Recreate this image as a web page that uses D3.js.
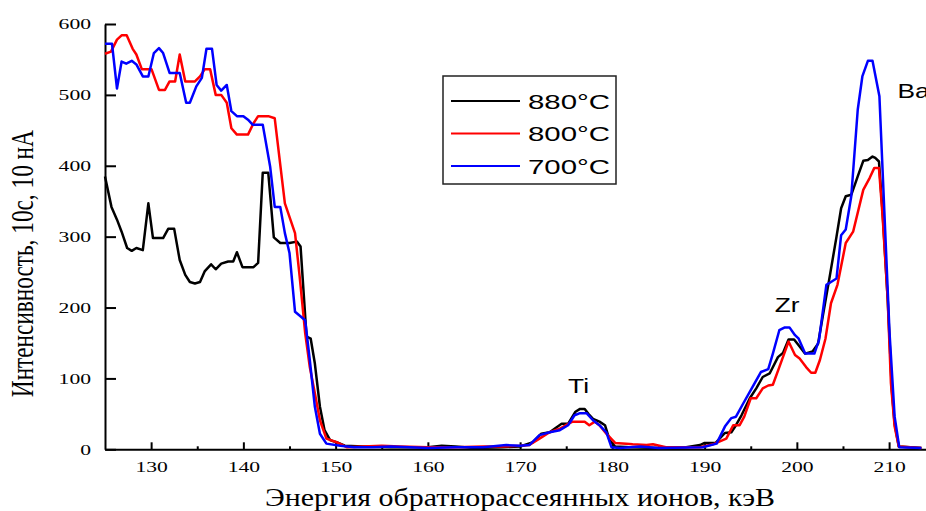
<!DOCTYPE html>
<html>
<head>
<meta charset="utf-8">
<script src="https://cdn.jsdelivr.net/npm/d3@7"></script>
<style>
    body { margin: 0; background: #fff; }
    #chart { width: 926px; height: 511px; }
    .axis path, .axis line { stroke: #000; stroke-width: 2px; }
    .axis text { font-family: "Liberation Serif", "DejaVu Serif", "Times New Roman", serif; font-size: 15px; fill: #000; }
    .series { fill: none; stroke-width: 2.5px; stroke-linejoin: round; }
    .serif { font-family: "Liberation Serif", "DejaVu Serif", "Times New Roman", serif; }
    .sans { font-family: "Liberation Sans", Arial, sans-serif; }
</style>
</head>
<body>
<div id="chart"></div>
<script>
// energy (keV) / intensity pairs
let e880 = [125.0,125.7,126.3,126.8,127.4,127.9,128.4,129.1,129.7,130.2,131.3,131.85,132.5,133.1,133.7,134.2,134.75,135.3,135.8,136.5,137.0,137.6,138.35,138.9,139.3,139.9,141.1,141.6,142.1,142.7,143.3,144.0,145.0,145.8,146.2,146.85,147.3,147.75,148.3,148.8,149.4,150.1,151.0,153,156,158,160,161.5,163,165,168,170,171.4,172.3,173.2,174.5,175.2,176.0,176.5,177.0,177.4,177.9,178.6,179.2,179.7,180.3,182,185,188,189.5,190.0,191.2,192.2,192.9,193.4,194.0,194.9,195.6,196.3,197.05,197.95,198.5,199.1,199.7,200.3,200.9,201.7,202.3,202.8,203.5,204.3,204.8,205.3,205.9,206.6,207.2,207.7,208.2,208.5,208.9,209.3,209.85,210.3,210.6,211.05,213.5];
let i880 = [385,342,324,307,284,280,284,281,347,298,298,311,311,267,246,236,234,236,251,261,254,262,265,265,278,257,257,263,390,390,299,291,291,293,286,159,156,121,60,27,13,10,5,4,3,3,3,5,4,2,3,4,10,22,24,36,36,53,57,57,50,43,39,34,13,4,3,2,3,6,9,9,23,24,34,48,72,86,102,107,130,136,155,155,145,135,138,149,187,239,300,340,357,359,385,407,408,413,411,406,333,211,83,36,4,2];

let e800 = [125.0,125.65,126.3,126.8,127.35,128.0,128.4,129.0,130.05,130.85,131.5,132.0,132.6,133.1,133.7,134.75,135.3,135.8,136.4,137.0,137.6,138.2,138.7,139.3,140.5,141.1,141.6,142.7,143.4,144.5,145.6,146.1,146.7,147.2,147.75,148.3,149.0,150.1,151.2,153,155,157,160,163,166,168,170,171.0,172.1,173.2,174.3,175.2,175.7,177.0,177.5,178.1,178.6,179.35,180.3,181.5,182.2,183.7,184.4,185.8,189.5,190.9,192.35,193.1,193.8,194.3,195.0,195.6,196.3,196.9,197.4,198.1,199.1,199.8,200.3,201.0,201.55,202.0,202.5,203.1,203.7,204.4,205.3,206.1,207.2,207.9,208.4,208.9,209.3,209.85,210.2,210.6,211.05,213.5];
let i800 = [558,561,578,584,584,565,557,536,536,507,507,519,519,557,519,519,526,536,536,500,500,489,453,444,444,460,470,470,467,347,305,244,164,116,79,41,15,10,3,4,5,4,3,3,4,4,5,6,15,24,29,36,39,39,34,39,34,22,9,8,7,6,7,3,3,7,15,34,34,46,72,72,86,90,91,116,152,133,128,116,108,108,126,156,206,232,291,307,366,383,397,397,328,211,93,32,4,2];

let e700 = [125.0,125.76,126.3,126.8,127.3,127.9,128.4,129.1,129.7,130.3,130.85,131.3,132.0,133.1,133.8,134.2,134.9,135.5,136.0,136.6,137.1,137.6,138.2,138.7,139.3,140.0,140.5,141.0,142.1,142.9,143.4,144.0,144.5,145.0,145.6,146.7,147.2,147.75,148.3,149.0,150.5,152,154,156,158,160,163,166,168.5,170,171.0,172.1,173.2,174.3,175.2,175.9,176.5,177.2,177.9,178.6,179.35,179.9,180.8,183,185,189.8,191.3,192.2,192.9,193.4,194.2,195.2,196.1,196.9,197.4,198.1,198.7,199.2,199.8,200.2,200.9,201.9,202.4,203.2,203.7,204.3,204.8,205.3,205.9,206.6,207.1,207.7,208.2,208.95,210.05,210.6,211.1,213.5];
let i700 = [572,572,509,547,544,548,543,526,526,559,566,559,531,531,489,489,512,524,565,565,514,506,514,477,470,470,465,458,458,399,342,342,305,277,194,182,126,60,22,8,5,3,3,4,3,2,3,3,6,5,6,20,24,27,34,48,51,51,41,34,24,3,2,4,2,3,8,32,44,46,65,88,109,113,135,168,172,172,161,156,135,135,154,232,236,241,302,310,357,479,526,548,548,498,164,46,3,2];

let seriesNames = ["880°C", "800°C", "700°C"];
let seriesColors = ["#000000", "#ff0000", "#0000ff"];

let xTicks = [130, 140, 150, 160, 170, 180, 190, 200, 210];
let xMinorTicks = [135, 145, 155, 165, 175, 185, 195, 205];
let yTicks = [0, 100, 200, 300, 400, 500, 600];

let peakNames = ["Ti", "Zr", "Ba"];
let peakEnergy = [175.2, 197.6, 210.9];
let peakLevel = [79, 193, 495];

let xTitle = "Энергия обратнорассеянных ионов, кэВ";
let yTitle = "Интенсивность, 10с, 10 нА";

let margin = { top: 24, right: 0, bottom: 62, left: 105 };
let width = 926 - margin.left - margin.right;
let height = 449.3 - margin.top;

let svg = d3.select("#chart").append("svg")
    .attr("width", 926)
    .attr("height", 511)
    .append("g")
    .attr("transform", `translate(${margin.left}, ${margin.top})`);

let x = d3.scaleLinear().domain([125, 214]).range([0, width]);
let y = d3.scaleLinear().domain([0, 600]).range([height, 0]);

// minor ticks on x
svg.append("g")
    .attr("class", "axis")
    .attr("transform", "translate(0," + height + ")")
    .call(d3.axisBottom(x).tickValues(xMinorTicks).tickSizeInner(-3).tickSizeOuter(0).tickFormat(""))
    .select(".domain").remove();

svg.append("g")
    .attr("class", "axis x-axis")
    .attr("transform", "translate(0," + height + ")")
    .call(d3.axisBottom(x).tickValues(xTicks).tickSizeInner(-7).tickSizeOuter(0).tickPadding(12));

svg.append("g")
    .attr("class", "axis y-axis")
    .call(d3.axisLeft(y).tickValues(yTicks).tickSizeInner(-11).tickSizeOuter(0).tickPadding(14));

// d3 puts font attributes on the axis group, drop them so the css applies
svg.selectAll(".axis").attr("font-family", null).attr("font-size", null);

// the original figure is stretched sideways, so widen the glyphs
svg.selectAll(".axis text")
    .attr("textLength", function() { return this.textContent.length * 10.8; })
    .attr("lengthAdjust", "spacingAndGlyphs");

// axis titles
svg.append("text")
    .attr("class", "serif")
    .attr("x", 520 - margin.left)
    .attr("y", height + 57)
    .attr("text-anchor", "middle")
    .attr("textLength", 510)
    .attr("lengthAdjust", "spacingAndGlyphs")
    .style("font-size", "26px")
    .text(xTitle);

svg.append("text")
    .attr("class", "serif")
    .attr("transform", `translate(${-72}, ${height / 2 + 27}) rotate(-90)`)
    .attr("text-anchor", "middle")
    .attr("textLength", 267)
    .attr("lengthAdjust", "spacingAndGlyphs")
    .style("font-size", "32px")
    .text(yTitle);

// lines
let line = d3.line()
    .x(d => x(d[0]))
    .y(d => y(d[1]));

let allSeries = [
    d3.zip(e880, i880),
    d3.zip(e800, i800),
    d3.zip(e700, i700)
];

svg.selectAll(".series")
    .data(allSeries)
    .enter()
    .append("path")
    .attr("class", "series")
    .attr("stroke", (d, i) => seriesColors[i])
    .attr("d", line);

// peak labels
svg.selectAll(".peak")
    .data(peakNames)
    .enter()
    .append("text")
    .attr("class", "peak sans")
    .attr("x", (d, i) => x(peakEnergy[i]))
    .attr("y", (d, i) => y(peakLevel[i]))
    .style("font-size", "21px")
    .text(d => d)
    .each(function() {
        let w = this.getComputedTextLength();
        d3.select(this).attr("textLength", w * 1.25).attr("lengthAdjust", "spacingAndGlyphs");
    });

// legend
let legend = svg.append("g")
    .attr("transform", `translate(${443 - margin.left}, ${76 - margin.top})`);

legend.append("rect")
    .attr("width", 173)
    .attr("height", 108)
    .attr("fill", "#fff")
    .attr("stroke", "#222")
    .attr("stroke-width", 1.5);

let rows = legend.selectAll(".legend-row")
    .data(seriesNames)
    .enter()
    .append("g")
    .attr("class", "legend-row")
    .attr("transform", (d, i) => `translate(0, ${25 + i * 32.5})`);

rows.append("line")
    .attr("x1", 8)
    .attr("x2", 77)
    .attr("stroke", (d, i) => seriesColors[i])
    .attr("stroke-width", 2);

rows.append("text")
    .attr("class", "sans")
    .attr("x", 85)
    .attr("y", 7.5)
    .attr("textLength", 82)
    .attr("lengthAdjust", "spacingAndGlyphs")
    .style("font-size", "21px")
    .text(d => d);
</script>
</body>
</html>
